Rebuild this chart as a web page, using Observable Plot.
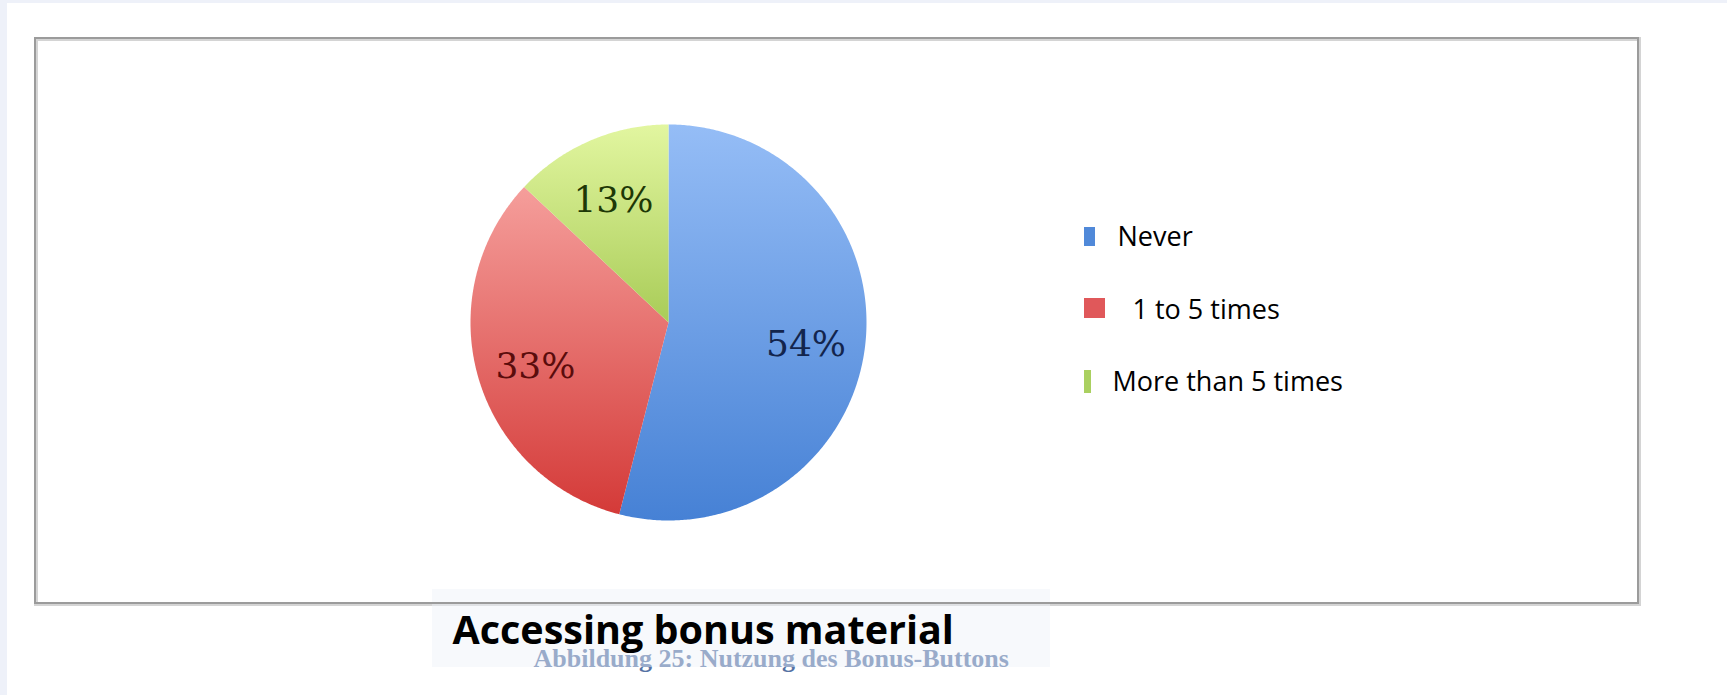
<!DOCTYPE html>
<html>
<head>
<meta charset="utf-8">
<script src="https://cdn.jsdelivr.net/npm/d3@7"></script>
<script src="https://cdn.jsdelivr.net/npm/@observablehq/plot@0.6"></script>
<style>
  html, body { margin: 0; padding: 0; background: #ffffff; }
  #chart svg { display: block; }
</style>
</head>
<body>
<div id="chart"></div>
<script>
// ---- data ----
const categories = ["Never", "1 to 5 times", "More than 5 times"];
const values = [54, 33, 13];
const valueLabels = ["54%", "33%", "13%"];
const captionText = "Accessing bonus material";
const underCaptionText = "Abbildung 25: Nutzung des Bonus-Buttons";

// ---- layout / style ----
const W = 1727, H = 695;
const cx = 668, cy = 322, R = 198;
const gradIds = ["gBlue", "gRed", "gGreen"];
const gradStops = [["#95bdf6", "#4681d5"], ["#f59e9b", "#d43a38"], ["#e2f6a0", "#a9cc58"]];
const labelColors = ["#13254d", "#5a0c0c", "#1e3806"];
const swatchColors = ["#5089d9", "#e0585a", "#aad060"];
const legendTextX = [1117, 1132, 1112];
const legendBaseline = [245, 318, 390];
const swatchBox = [[1084, 1095, 227, 246], [1084, 1105, 298, 318], [1084, 1091, 370, 393]];

const arcs = d3.pie().sort(null)(values);
const slicePts = arcs.map((a, i) => {
  const pts = [{x: cx, y: cy}];
  const n = Math.max(8, Math.ceil((a.endAngle - a.startAngle) / (Math.PI / 360)));
  for (let k = 0; k <= n; k++) {
    const t = a.startAngle + (a.endAngle - a.startAngle) * k / n;
    pts.push({x: cx + R * Math.sin(t), y: cy - R * Math.cos(t)});
  }
  return pts;
});
const labelData = arcs.map((a, i) => {
  const m = (a.startAngle + a.endAngle) / 2;
  const r = 0.7 * R;
  return {x: cx + r * Math.sin(m), y: cy - r * Math.cos(m), label: valueLabels[i], color: labelColors[i]};
});
const legendData = categories.map((c, i) => ({
  name: c, tx: legendTextX[i], ty: legendBaseline[i],
  x1: swatchBox[i][0], x2: swatchBox[i][1], y1: swatchBox[i][2], y2: swatchBox[i][3], color: swatchColors[i]
}));

const chart = Plot.plot({
  width: W, height: H, margin: 0,
  x: {domain: [0, W], range: [0, W], axis: null},
  y: {domain: [0, H], range: [0, H], axis: null},
  style: {background: "#ffffff"},
  marks: [
    // page edge strips
    Plot.rect([{x1: 0, x2: 7, y1: 0, y2: H}, {x1: 0, x2: W, y1: 0, y2: 3}], {x1: "x1", x2: "x2", y1: "y1", y2: "y2", fill: "#eef1f9"}),
    // frame shadow
    Plot.rect([{x1: 36, x2: 1639, y1: 39, y2: 604}], {x1: "x1", x2: "x2", y1: "y1", y2: "y2", fill: "none", stroke: "#d4d4d4", strokeWidth: 4}),
    // pie slices
    ...slicePts.map((pts, i) => Plot.line(pts, {x: "x", y: "y", fill: `url(#${gradIds[i]})`, stroke: "none", curve: "linear"})),
    // slice labels
    Plot.text(labelData, {x: "x", y: "y", dy: 5, text: "label", fill: "color", fontFamily: "DejaVu Serif", fontSize: 36, textAnchor: "middle", lineAnchor: "middle"}),
    // legend
    Plot.rect(legendData, {x1: "x1", x2: "x2", y1: "y1", y2: "y2", fill: "color"}),
    Plot.text(legendData, {x: "tx", y: "ty", text: "name", fill: "#000000", fontFamily: "Open Sans", fontSize: 27, textAnchor: "start", lineAnchor: "bottom"}),
    // German caption under the box
    Plot.text([underCaptionText], {x: 533, y: 666, text: d => d, fill: "#5572a4", fontFamily: "Liberation Serif", fontWeight: "bold", fontSize: 26, textAnchor: "start", lineAnchor: "bottom"}),
    // caption box
    Plot.rect([{x1: 432, x2: 1050, y1: 589, y2: 667}], {x1: "x1", x2: "x2", y1: "y1", y2: "y2", fill: "#eef1f8", fillOpacity: 0.45}),
    Plot.rect([{x1: 35, x2: 1638, y1: 38, y2: 603}], {x1: "x1", x2: "x2", y1: "y1", y2: "y2", fill: "none", stroke: "#9b9b9b", strokeWidth: 2}),
    Plot.text([captionText], {x: 452, y: 643, text: d => d, fill: "#000000", fontFamily: "Open Sans", fontWeight: "bold", fontSize: 39.5, textAnchor: "start", lineAnchor: "bottom"})
  ]
});

const defs = d3.select(chart).insert("defs", ":first-child");
gradIds.forEach((id, i) => {
  const g = defs.append("linearGradient").attr("id", id).attr("x1", 0).attr("y1", 0).attr("x2", 0).attr("y2", 1);
  g.append("stop").attr("offset", "0%").attr("stop-color", gradStops[i][0]);
  g.append("stop").attr("offset", "100%").attr("stop-color", gradStops[i][1]);
});

document.getElementById("chart").appendChild(chart);
</script>
</body>
</html>
